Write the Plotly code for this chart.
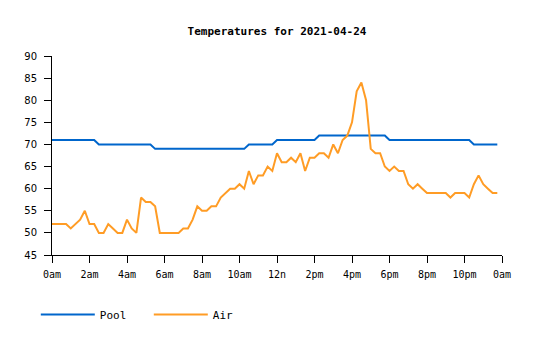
import plotly.graph_objects as go

# 15-minute samples, 0:00 .. 23:45
hours = [i * 0.25 for i in range(96)]

pool = ([71] * 10 + [70] * 12 + [69] * 20 + [70] * 6 + [71] * 9 +
        [72] * 15 + [71] * 18 + [70] * 6)

air = [52, 52, 52, 52, 51, 52, 53, 55,   # 0:00-1:45
       52, 52, 50, 50, 52, 51, 50, 50,   # 2:00-3:45
       53, 51, 50, 58, 57, 57, 56, 50,   # 4:00-5:45
       50, 50, 50, 50, 51, 51, 53, 56,   # 6:00-7:45
       55, 55, 56, 56, 58, 59, 60, 60,   # 8:00-9:45
       61, 60, 64, 61, 63, 63, 65, 64,   # 10:00-11:45
       68, 66, 66, 67, 66, 68, 64, 67,   # 12:00-13:45
       67, 68, 68, 67, 70, 68, 71, 72,   # 14:00-15:45
       75, 82, 84, 80, 69, 68, 68, 65,   # 16:00-17:45
       64, 65, 64, 64, 61, 60, 61, 60,   # 18:00-19:45
       59, 59, 59, 59, 59, 58, 59, 59,   # 20:00-21:45
       59, 58, 61, 63, 61, 60, 59, 59]   # 22:00-23:45

tick_vals = list(range(0, 25, 2))
tick_text = ["0am", "2am", "4am", "6am", "8am", "10am", "12n",
             "2pm", "4pm", "6pm", "8pm", "10pm", "0am"]
y_ticks = list(range(45, 91, 5))

mono = "DejaVu Sans Mono"

fig = go.Figure()
fig.add_trace(go.Scatter(x=hours, y=pool, mode="lines", name="Pool",
                         line=dict(color="#0066cc", width=2)))
fig.add_trace(go.Scatter(x=hours, y=air, mode="lines", name="Air",
                         line=dict(color="#ff9c25", width=2)))

fig.update_layout(
    width=535, height=340,
    margin=dict(l=52, r=33, t=56, b=84),
    paper_bgcolor="white", plot_bgcolor="white",
    title=dict(text="<b>Temperatures for 2021-04-24</b>", x=0.5, xref="paper",
               y=1 - 31 / 340, yanchor="middle",
               font=dict(family=mono, size=11, color="black")),
    showlegend=True,
    legend=dict(orientation="h", x=-0.036, xanchor="left", y=-0.293,
                yanchor="middle", font=dict(family=mono, size=11, color="black"),
                itemwidth=54, entrywidth=44, entrywidthmode="pixels",
                bgcolor="rgba(0,0,0,0)"),
    xaxis=dict(range=[0, 24], tickmode="array", tickvals=tick_vals,
               ticktext=tick_text, ticks="outside", ticklen=7, tickcolor="black",
               showline=True, linecolor="black", linewidth=1,
               showgrid=False, zeroline=False, ticklabelstandoff=3,
               tickfont=dict(family=mono, size=10, color="black")),
    yaxis=dict(range=[45, 90], tickmode="array", tickvals=y_ticks,
               ticks="outside", ticklen=7, tickcolor="black",
               showline=True, linecolor="black", linewidth=1,
               showgrid=False, zeroline=False, ticklabelstandoff=5,
               tickfont=dict(family="DejaVu Sans", size=10, color="black")),
)

fig.write_html("out.html")
